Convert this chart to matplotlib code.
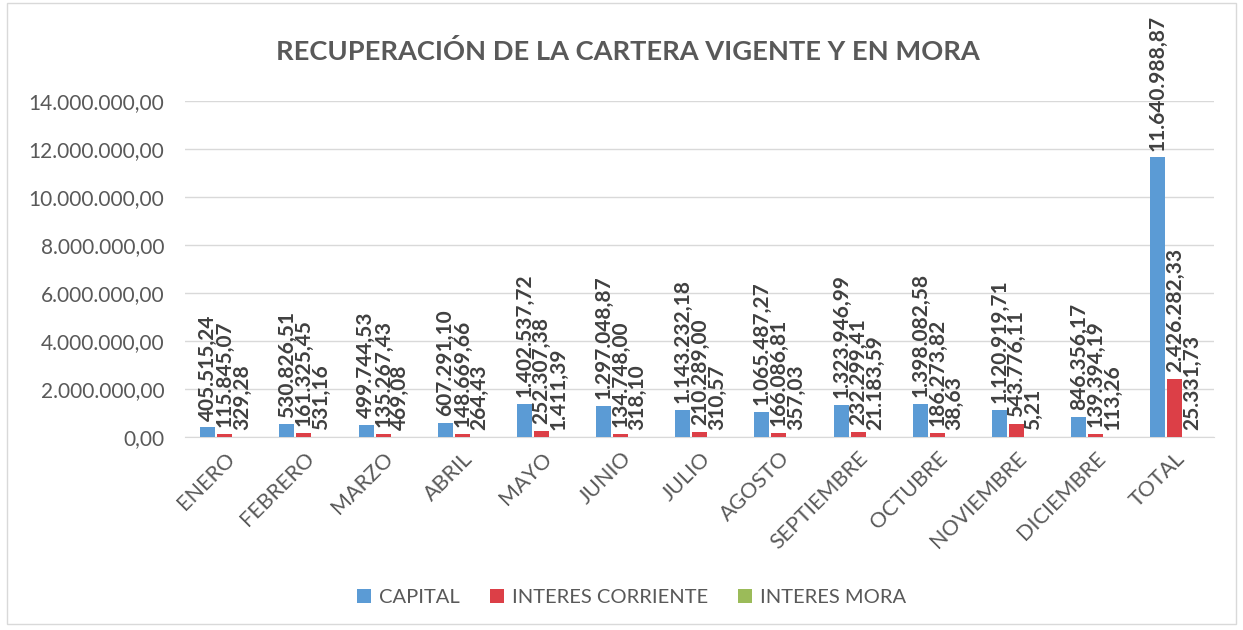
import matplotlib
matplotlib.use("Agg")
import matplotlib.pyplot as plt
from matplotlib.ticker import FuncFormatter, MultipleLocator
import numpy as np

categories = ["ENERO", "FEBRERO", "MARZO", "ABRIL", "MAYO", "JUNIO", "JULIO",
              "AGOSTO", "SEPTIEMBRE", "OCTUBRE", "NOVIEMBRE", "DICIEMBRE", "TOTAL"]
capital = [405515.24, 530826.51, 499744.53, 607291.10, 1402537.72, 1297048.87,
           1143232.18, 1065487.27, 1323946.99, 1398082.58, 1120919.71, 846356.17,
           11640988.87]
interes_corriente = [115845.07, 161325.45, 135267.43, 148669.66, 252307.38, 134748.00,
                     210289.00, 166086.81, 232299.41, 186273.82, 543776.11, 139394.19,
                     2426282.33]
interes_mora = [329.28, 531.16, 469.08, 264.43, 1411.39, 318.10, 310.57, 357.03,
                21183.59, 38.63, 5.21, 113.26, 25331.73]
series_names = ["CAPITAL", "INTERES CORRIENTE", "INTERES MORA"]
colors = ["#5B9BD5", "#DC3F47", "#9BBB59"]


def fmt_es(v, pos=None):
    s = f"{v:,.2f}"
    return s.replace(",", "X").replace(".", ",").replace("X", ".")


plt.rcParams['font.family'] = ['Lato', 'DejaVu Sans']
fig = plt.figure(figsize=(12.43, 6.30), dpi=100)
ax = fig.add_axes([0.149, 0.306, 0.828, 0.534])

x = np.arange(len(categories))
w = 0.19
step = 0.215
for i, (vals, name, c) in enumerate(zip([capital, interes_corriente, interes_mora], series_names, colors)):
    pos = x + (i - 1) * step
    ax.bar(pos, vals, width=w, color=c, label=name, zorder=3)
    for xp, v in zip(pos, vals):
        ax.annotate(fmt_es(v), (xp, v), xytext=(0, 5), textcoords="offset points",
                    rotation=90, ha="center", va="bottom", fontsize=15,
                    color="#404040", fontweight="bold", zorder=4)

ax.set_ylim(0, 14000000)
ax.set_xlim(-0.5, len(categories) - 0.5)
ax.yaxis.set_major_locator(MultipleLocator(2000000))
ax.yaxis.set_major_formatter(FuncFormatter(fmt_es))
ax.grid(axis="y", color="#D9D9D9", linewidth=1, zorder=0)
for s in ["top", "right", "left"]:
    ax.spines[s].set_visible(False)
ax.spines["bottom"].set_color("#D9D9D9")
ax.tick_params(axis="y", length=0, labelsize=15, labelcolor="#595959", pad=15)
ax.tick_params(axis="x", length=0, labelsize=15.5, labelcolor="#595959", pad=8)
ax.set_xticks(x)
ax.set_xticklabels(categories, rotation=45, ha="right", rotation_mode="anchor")

fig.text(0.505, 0.918, "RECUPERACIÓN DE LA CARTERA VIGENTE Y EN MORA", ha="center",
         va="center", fontsize=19.6, fontweight="bold", color="#595959")

leg = fig.legend(loc="center", bbox_to_anchor=(0.508, 0.052), ncol=3, frameon=False,
                 fontsize=14.5, handlelength=0.7, handleheight=0.7, columnspacing=1.5,
                 handletextpad=0.4)
for t in leg.get_texts():
    t.set_color("#595959")

fig.patches.append(plt.Rectangle((0.006, 0.01), 0.988, 0.985, transform=fig.transFigure,
                                 fill=False, edgecolor="#D9D9D9", linewidth=1))

fig.savefig("out.png", dpi=100)
